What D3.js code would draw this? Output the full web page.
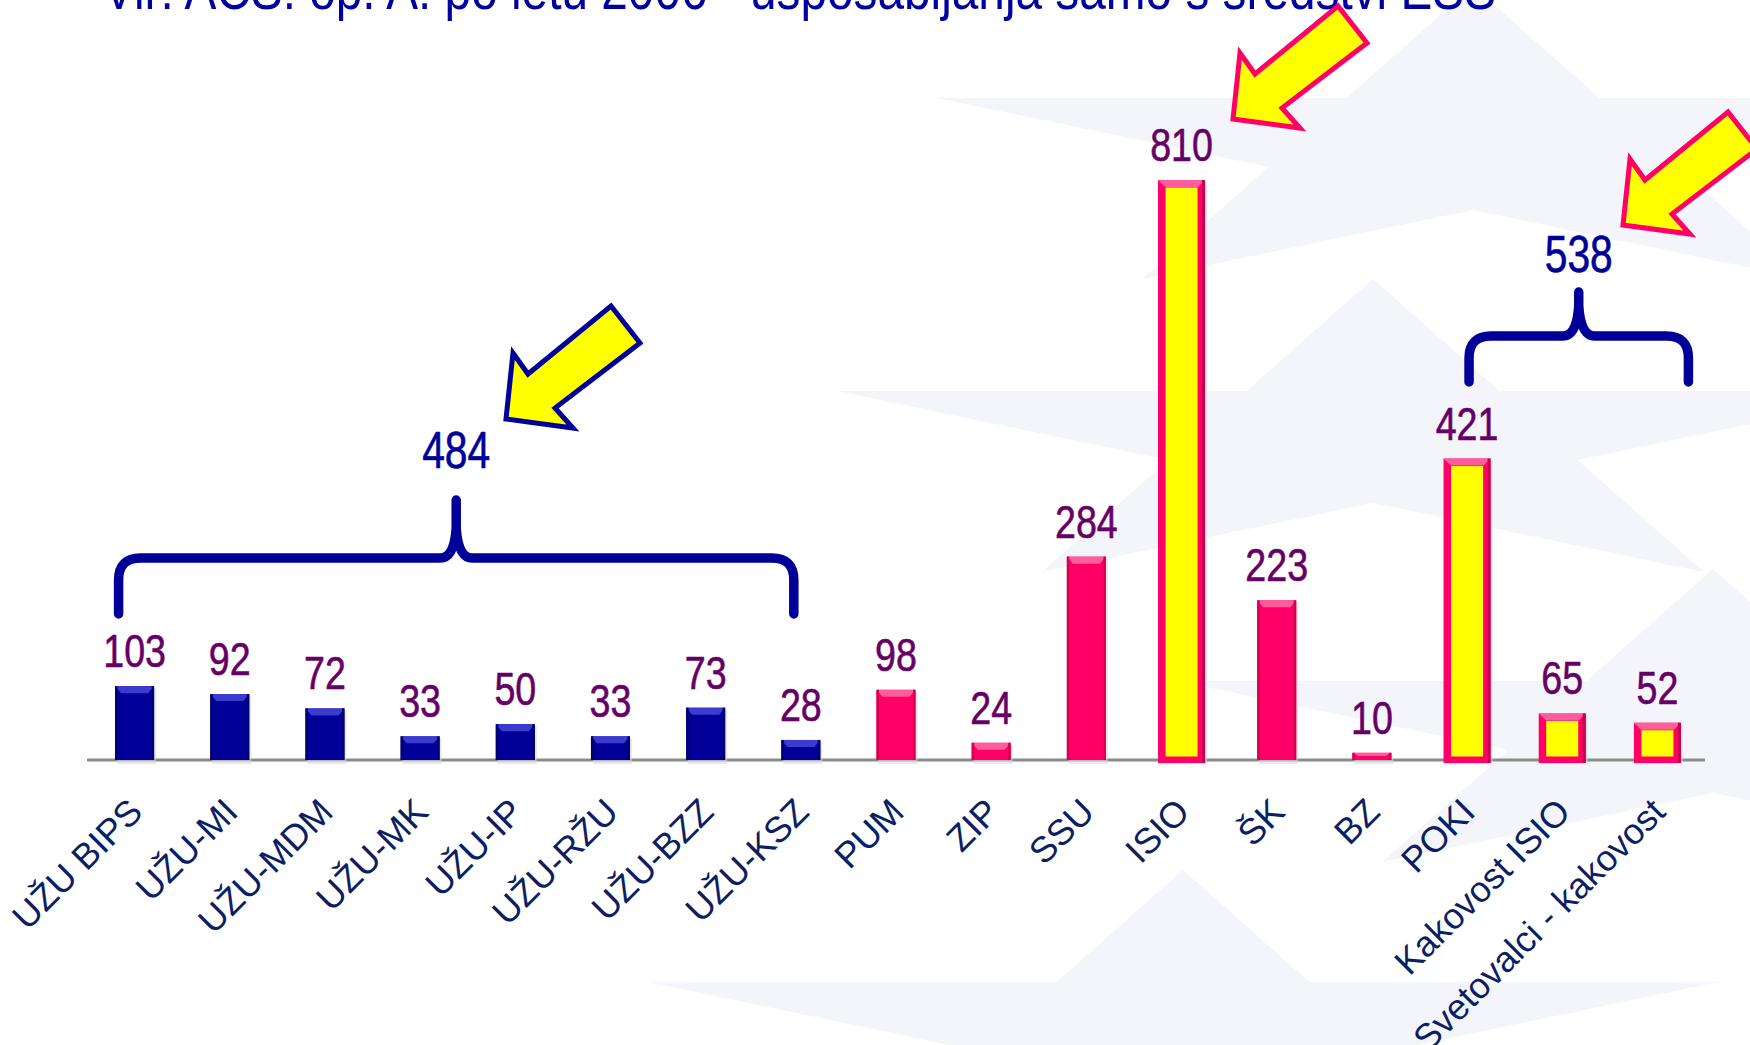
<!DOCTYPE html>
<html>
<head>
<meta charset="utf-8">
<script src="https://cdn.jsdelivr.net/npm/d3@7"></script>
<style>
  html, body { margin: 0; padding: 0; background: #ffffff; }
  svg { display: block; }
</style>
</head>
<body>
<svg id="chart" width="1750" height="1045"></svg>
<script>
// ---------------- DATA ----------------
const title = "Vir: ACS: op. A: po letu 2006 - usposabljanja samo s sredstvi ESS";
const categories = ["UŽU BIPS", "UŽU-MI", "UŽU-MDM", "UŽU-MK", "UŽU-IP", "UŽU-RŽU", "UŽU-BZZ", "UŽU-KSZ",
  "PUM", "ZIP", "SSU", "ISIO", "ŠK", "BZ", "POKI", "Kakovost ISIO", "Svetovalci - kakovost"];
const values = [103, 92, 72, 33, 50, 33, 73, 28, 98, 24, 284, 810, 223, 10, 421, 65, 52];
const uzuPrograms = ["UŽU BIPS", "UŽU-MI", "UŽU-MDM", "UŽU-MK", "UŽU-IP", "UŽU-RŽU", "UŽU-BZZ", "UŽU-KSZ"];
const highlighted = ["ISIO", "POKI", "Kakovost ISIO", "Svetovalci - kakovost"];
const qualityGroup = ["POKI", "Kakovost ISIO", "Svetovalci - kakovost"];

// ---------------- SETUP ----------------
const W = 1750, H = 1045;
const svg = d3.select("#chart");
const baseY = 760;

const x = d3.scaleBand().domain(categories).range([87, 1705]).paddingInner(0.59).paddingOuter(0.295);
const y = d3.scaleLinear().domain([0, 810]).range([baseY, 180]);
const bw = x.bandwidth();
const cx = c => x(c) + bw / 2;

const data = categories.map((c, i) => ({ c, v: values[i] }));
const kind = d => uzuPrograms.includes(d.c) ? "blue" : (highlighted.includes(d.c) ? "yellow" : "pink");

const narrowFont = "'Liberation Sans', Arial, sans-serif";

// ---------------- BACKGROUND STARS (faint, perspective) ----------------
function starPts(sx, sy, rx, ry) {
  const pts = [];
  for (let k = 0; k < 10; k++) {
    const a = (-90 + 36 * k) * Math.PI / 180;
    const f = k % 2 === 0 ? 1 : 0.382;
    pts.push([sx + rx * f * Math.cos(a), sy + ry * f * Math.sin(a)]);
  }
  return pts;
}
const starCenters = [[1473, 148], [1373, 441], [1183, 1032], [1713, 731]];
svg.append("g").selectAll("polygon").data(starCenters).join("polygon")
  .attr("points", d => starPts(d[0], d[1], 563, 162).map(p => p.join(",")).join(" "))
  .attr("fill", "#f4f5fa");

// ---------------- TITLE ----------------
svg.append("text")
  .attr("x", 103).attr("y", 9)
  .attr("textLength", 1393).attr("lengthAdjust", "spacingAndGlyphs")
  .attr("font-family", "'Liberation Sans', Arial, sans-serif")
  .attr("font-size", 58).attr("fill", "#0000a0")
  .text(title);

// ---------------- AXIS LINE ----------------
svg.append("line")
  .attr("x1", 87).attr("x2", 1705).attr("y1", baseY).attr("y2", baseY)
  .attr("stroke", "#8a8a8a").attr("stroke-width", 3);

// ---------------- BARS ----------------
const bars = svg.append("g").selectAll("g").data(data).join("g");

bars.each(function (d) {
  const g = d3.select(this);
  const k = kind(d);
  const top = y(d.v);
  const h = baseY - top;
  if (k === "yellow") {
    const ow = bw + 8, ox = cx(d.c) - ow / 2;
    g.append("rect").attr("x", ox + 2).attr("y", top + 2).attr("width", ow).attr("height", h + 2).attr("fill", "#d8d8e0").attr("opacity", 0.6);
    g.append("rect").attr("x", ox).attr("y", top).attr("width", ow).attr("height", h + 3).attr("fill", "#ff0066");
    g.append("polygon").attr("points", `${ox},${top} ${ox + ow},${top} ${ox + ow - 7},${top + 7} ${ox + 7},${top + 7}`).attr("fill", "#ff5c9d");
    g.append("rect").attr("x", ox + ow - 3).attr("y", top).attr("width", 3).attr("height", h + 3).attr("fill", "#c8004f");
    g.append("rect").attr("x", ox + 7.5).attr("y", top + 7.5).attr("width", ow - 15).attr("height", Math.max(0, h - 11)).attr("fill", "#ffff00");
  } else {
    const body = k === "blue" ? "#000099" : "#ff0066";
    const cap = k === "blue" ? "#3b3bd0" : "#ff5c9d";
    const edge = k === "blue" ? "#000070" : "#d6004f";
    const ox = x(d.c);
    g.append("rect").attr("x", ox + 2).attr("y", top + 2).attr("width", bw).attr("height", h + 2).attr("fill", "#d8d8e0").attr("opacity", 0.6);
    g.append("rect").attr("x", ox).attr("y", top).attr("width", bw).attr("height", h).attr("fill", body);
    const ch = Math.min(7, h * 0.45);
    g.append("polygon").attr("points", `${ox},${top} ${ox + bw},${top} ${ox + bw - 6},${top + ch} ${ox + 6},${top + ch}`).attr("fill", cap);
    g.append("rect").attr("x", ox).attr("y", top).attr("width", 2.5).attr("height", h).attr("fill", edge);
    g.append("rect").attr("x", ox + bw - 2.5).attr("y", top).attr("width", 2.5).attr("height", h).attr("fill", edge);
  }
});

// value labels (condensed look via horizontal scaling)
svg.append("g").selectAll("text").data(data).join("text")
  .attr("transform", d => `translate(${cx(d.c)},${y(d.v) - 19}) scale(0.8,1)`)
  .attr("text-anchor", "middle")
  .attr("font-family", narrowFont)
  .attr("font-size", 47)
  .attr("fill", "#660066")
  .attr("stroke", "#660066").attr("stroke-width", 0.6)
  .text(d => d.v);

// category labels
svg.append("g").selectAll("text").data(data).join("text")
  .attr("transform", d => `translate(${cx(d.c) + 10},${814}) rotate(-45)`)
  .attr("text-anchor", "end")
  .attr("font-family", "'Liberation Sans', Arial, sans-serif")
  .attr("font-size", 36)
  .attr("fill", "#0b1f62")
  .text(d => d.c);

// ---------------- BRACES ----------------
function bracePath(x0, x1, yH, yEnd, yTip) {
  const m = (x0 + x1) / 2, r = 22;
  return `M${x0},${yEnd} L${x0},${yH + r} Q${x0},${yH} ${x0 + r},${yH} L${m - 16},${yH} Q${m - 2},${yH} ${m},${yH - 30} L${m},${yTip}` +
         `M${m},${yTip} L${m},${yH - 30} Q${m + 2},${yH} ${m + 16},${yH} L${x1 - r},${yH} Q${x1},${yH} ${x1},${yH + r} L${x1},${yEnd}`;
}
const braceGroups = [
  { members: uzuPrograms, x0: cx(uzuPrograms[0]) - 16, x1: cx(uzuPrograms[uzuPrograms.length - 1]) - 7, yH: 558, yEnd: 614, yTip: 500, labelY: 468 },
  { members: qualityGroup, x0: cx(qualityGroup[0]) + 2, x1: cx(qualityGroup[qualityGroup.length - 1]) + 31, yH: 336, yEnd: 382, yTip: 292, labelY: 272 }
];
braceGroups.forEach(b => {
  svg.append("path").attr("d", bracePath(b.x0, b.x1, b.yH, b.yEnd, b.yTip))
    .attr("fill", "none").attr("stroke", "#000099").attr("stroke-width", 9.5)
    .attr("stroke-linecap", "round").attr("stroke-linejoin", "round");
  const total = d3.sum(b.members, m => values[categories.indexOf(m)]);
  svg.append("text")
    .attr("transform", `translate(${(b.x0 + b.x1) / 2},${b.labelY}) scale(0.8,1)`)
    .attr("text-anchor", "middle")
    .attr("font-family", narrowFont)
    .attr("font-size", 51).attr("fill", "#000099")
    .attr("stroke", "#000099").attr("stroke-width", 0.6)
    .text(total);
});

// ---------------- ARROWS ----------------
const arrowShape = [[0, 0], [7, -66], [22, -45], [105, -113], [134, -76], [49, -11], [67, 9]];
const arrows = [
  { tip: [506, 419], stroke: "#000099" },
  { tip: [1233, 119], stroke: "#ff0066" },
  { tip: [1623, 225], stroke: "#ff0066" }
];
svg.append("g").selectAll("polygon").data(arrows).join("polygon")
  .attr("points", a => arrowShape.map(p => [a.tip[0] + p[0], a.tip[1] + p[1]].join(",")).join(" "))
  .attr("fill", "#ffff00").attr("stroke", d => d.stroke).attr("stroke-width", 5).attr("stroke-linejoin", "miter");
</script>
</body>
</html>
